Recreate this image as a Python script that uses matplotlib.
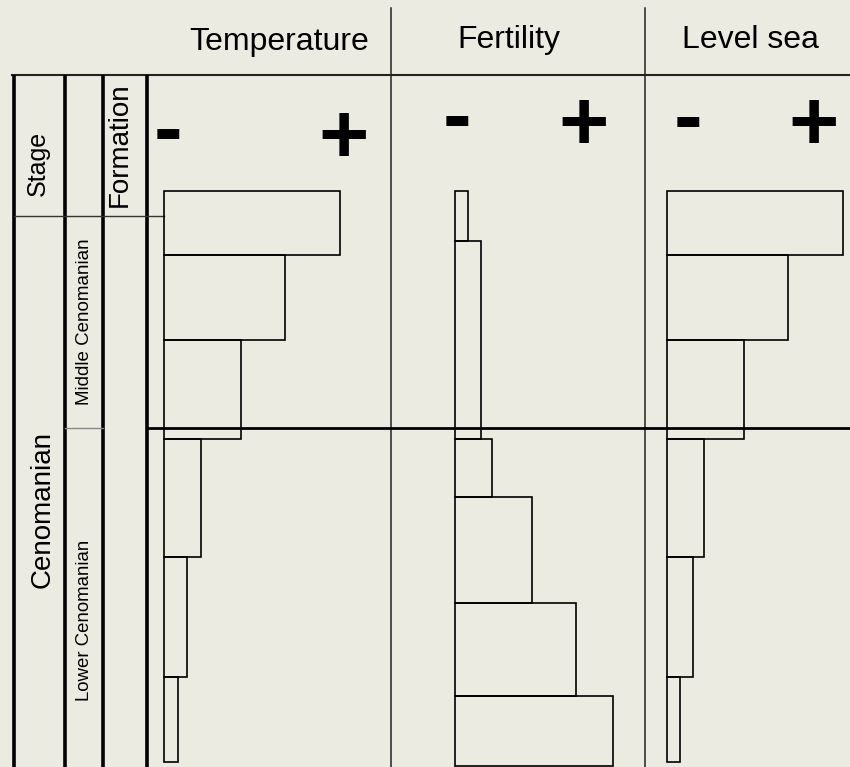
import matplotlib.pyplot as plt
import numpy as np

# layer boundaries (depth units, 0 = top of the section) and relative intensities
temp_bounds = [0, 11.2, 25.9, 43.1, 63.6, 84.3, 99.1]
temp_values = [100, 69, 44, 21, 13, 8]

fert_bounds = [0, 8.7, 43.1, 53.2, 71.5, 87.7, 99.8]
fert_values = [7.5, 15, 21, 44, 69, 90]

sea_bounds = [0, 11.2, 25.9, 43.1, 63.6, 84.3, 99.1]
sea_values = [100, 69, 44, 21, 15, 7.5]

columns = ["Temperature", "Fertility", "Level sea"]
stage_name = "Cenomanian"
substages = ["Middle Cenomanian", "Lower Cenomanian"]

BG = "#ecebe1"
W, H = 850, 767
plt.rcParams["font.family"] = ["Liberation Sans", "DejaVu Sans"]

fig = plt.figure(figsize=(W / 100, H / 100), dpi=100, facecolor=BG)

# frame axes in pixel units for the table layout
frame = fig.add_axes([0, 0, 1, 1])
frame.set_xlim(0, W)
frame.set_ylim(H, 0)
frame.axis("off")

frame.plot([12, W], [75, 75], color="#222222", lw=1.5)
for x in [391, 645]:
    frame.plot([x, x], [8, H], color="#222222", lw=1.1)
for x in [14, 65, 103, 147]:
    frame.plot([x, x], [75, H], color="black", lw=2.6, solid_capstyle="butt")
frame.plot([14, 164], [216, 216], color="#333333", lw=1.0)
frame.plot([65, 103], [428, 428], color="#888888", lw=1.0)
frame.plot([147, W], [428, 428], color="black", lw=2.0)

# column headers
head_x = [279.5, 509, 750.5]
head_y = [50, 48, 48]
for name, x, y in zip(columns, head_x, head_y):
    frame.text(x, y, name, fontsize=23, ha="center", va="baseline")

# - / + signs
minus_pos = [(168, 156.3), (457, 143.5), (688, 144)]
plus_pos = [(343.5, 162.7), (584, 149.7), (814, 149.7)]
for (mx, my), (px, py) in zip(minus_pos, plus_pos):
    frame.text(mx, my, "-", fontsize=62, fontweight="bold", ha="center", va="baseline")
    frame.text(px, py, "+", fontsize=62, fontweight="bold", ha="center", va="baseline")

# left label columns
rot = dict(rotation=90, rotation_mode="anchor", ha="center", va="baseline")
frame.text(45, 163.5, "Stage", fontsize=18, **rot)
frame.text(126.7, 145, "Formation", fontsize=20, **rot)
frame.text(50, 509, stage_name, fontsize=20, **rot)
frame.text(89.3, 322, substages[0], fontsize=13.5, **rot)
frame.text(89.3, 620, substages[1], fontsize=13.4, **rot)

# bar panels
bar_left_px = [164, 454.6, 666.7]
px_per_unit = 1.76
top_px, px_per_depth = 190.7, 5.763
panel_w = 200
series = [(temp_bounds, temp_values), (fert_bounds, fert_values), (sea_bounds, sea_values)]

for left, (bounds, vals) in zip(bar_left_px, series):
    ax = fig.add_axes([left / W, 0, panel_w / W, 1])
    ax.set_xlim(0, panel_w / px_per_unit)
    ax.set_ylim((H - top_px) / px_per_depth, -top_px / px_per_depth)
    ax.axis("off")
    b = np.array(bounds)
    ax.barh(b[:-1], vals, height=np.diff(b), align="edge", left=0,
            facecolor="none", edgecolor="black", linewidth=1.2, clip_on=False)

fig.savefig("out.png", dpi=100, facecolor=BG)
